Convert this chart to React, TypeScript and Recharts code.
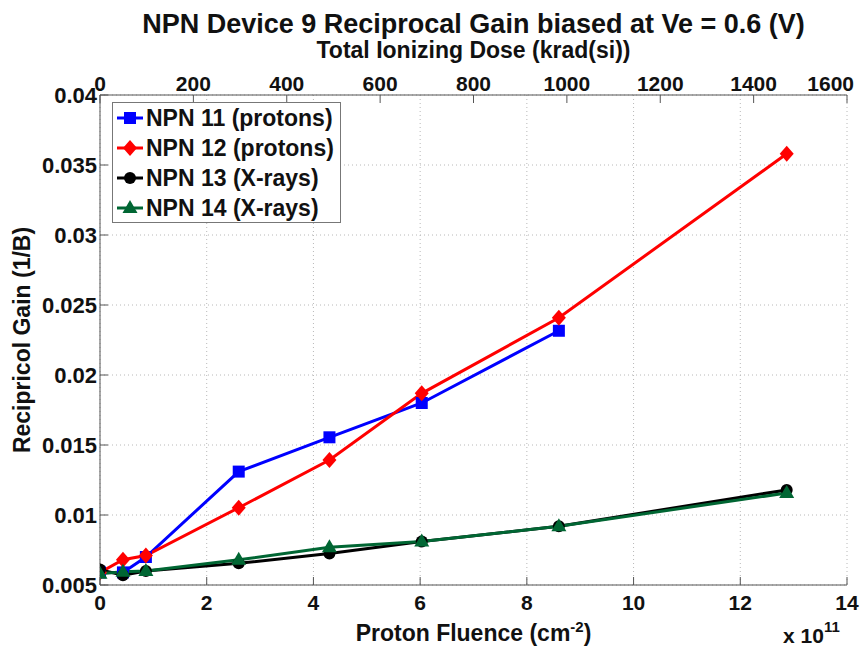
import React from "react";
import {
  LineChart,
  Line,
  XAxis,
  YAxis,
  CartesianGrid,
  Legend,
  Label,
} from "recharts";

const fluence = [0, 0.43, 0.86, 2.6, 4.3, 6.03, 8.6, 12.87];
const npn11 = [0.0059, 0.0059, 0.007, 0.0131, 0.01555, 0.018, 0.02316, null];
const npn12 = [0.0059, 0.0068, 0.0071, 0.01052, 0.01393, 0.01869, 0.02409, 0.0358];
const npn13 = [0.0061, 0.0057, 0.006, 0.00655, 0.00725, 0.0081, 0.0092, 0.01179];
const npn14 = [0.0058, 0.00595, 0.006, 0.0068, 0.0077, 0.0081, 0.0092, 0.01157];

const fluenceTicks = [0, 2, 4, 6, 8, 10, 12, 14];
const doseTicks = [0, 200, 400, 600, 800, 1000, 1200, 1400, 1600];
const gainTicks = [0.005, 0.01, 0.015, 0.02, 0.025, 0.03, 0.035, 0.04];

// top axis: 0..1600 krad(si) spans the same width as 0..14 x 10^11 cm^-2
const DOSE_MAX = 1600;
const FLUENCE_MAX = 14;
const doseTickPositions = doseTicks.map((d) => (d * FLUENCE_MAX) / DOSE_MAX);

const seriesInfo = [
  { key: "npn11", name: "NPN 11 (protons)", color: "#0000ff", shape: "square" },
  { key: "npn12", name: "NPN 12 (protons)", color: "#ff0000", shape: "diamond" },
  { key: "npn13", name: "NPN 13 (X-rays)", color: "#000000", shape: "circle" },
  { key: "npn14", name: "NPN 14 (X-rays)", color: "#006633", shape: "triangle" },
];

const data = fluence.map((f, i) => ({
  x: f,
  npn11: npn11[i],
  npn12: npn12[i],
  npn13: npn13[i],
  npn14: npn14[i],
}));

const FONT = "'Liberation Sans', Arial, sans-serif";
const AXIS = "#555555";

function Marker({ shape, cx, cy, color }: any) {
  if (shape === "square")
    return <rect x={cx - 6} y={cy - 6} width={12} height={12} fill={color} />;
  if (shape === "diamond")
    return (
      <polygon
        points={`${cx},${cy - 8} ${cx + 7},${cy} ${cx},${cy + 8} ${cx - 7},${cy}`}
        fill={color}
      />
    );
  if (shape === "circle") return <circle cx={cx} cy={cy} r={6} fill={color} />;
  return (
    <polygon
      points={`${cx},${cy - 8} ${cx + 7.5},${cy + 5} ${cx - 7.5},${cy + 5}`}
      fill={color}
    />
  );
}

const makeDot = (shape: string, color: string) => (props: any) => {
  const { cx, cy, index, value } = props;
  if (cx == null || cy == null || value == null) return <g key={`d${index}`} />;
  return (
    <g key={`d${index}`}>
      <Marker shape={shape} cx={cx} cy={cy} color={color} />
    </g>
  );
};

const BottomTick = (props: any) => {
  const { x, y, payload } = props;
  return (
    <g>
      <line x1={x} x2={x} y1={y} y2={y - 8} stroke={AXIS} strokeWidth={1} />
      <text
        x={x}
        y={y + 25}
        textAnchor="middle"
        fontFamily={FONT}
        fontWeight="bold"
        fontSize={21}
        fill="#111"
      >
        {payload.value}
      </text>
    </g>
  );
};

const TopTick = (props: any) => {
  const { x, y, payload } = props;
  const label = Math.round((payload.value * DOSE_MAX) / FLUENCE_MAX);
  const isLast = label === DOSE_MAX;
  return (
    <g>
      <line x1={x} x2={x} y1={y} y2={y + 8} stroke={AXIS} strokeWidth={1} />
      <text
        x={isLast ? x + 7 : x}
        y={y - 4}
        textAnchor={isLast ? "end" : "middle"}
        fontFamily={FONT}
        fontWeight="bold"
        fontSize={21}
        fill="#111"
      >
        {label}
      </text>
    </g>
  );
};

const LeftTick = (props: any) => {
  const { x, y, payload } = props;
  return (
    <g>
      <line x1={x} x2={x + 8} y1={y} y2={y} stroke={AXIS} strokeWidth={1} />
      <text
        x={x - 3}
        y={y + 8}
        textAnchor="end"
        fontFamily={FONT}
        fontWeight="bold"
        fontSize={22}
        fill="#111"
      >
        {String(payload.value)}
      </text>
    </g>
  );
};

const TopLabel = (props: any) => {
  const vb = props.viewBox;
  const cx = vb.x + vb.width / 2;
  return (
    <g fontFamily={FONT} fontWeight="bold" fill="#111">
      <text x={cx} y={vb.y + 23} textAnchor="middle" fontSize={27}>
        NPN Device 9 Reciprocal Gain biased at Ve = 0.6 (V)
      </text>
      <text x={cx} y={vb.y + 48} textAnchor="middle" fontSize={23}>
        Total Ionizing Dose (krad(si))
      </text>
    </g>
  );
};

const BottomLabel = (props: any) => {
  const vb = props.viewBox;
  const cx = vb.x + vb.width / 2;
  return (
    <g fontFamily={FONT} fontWeight="bold" fill="#111">
      <text x={cx} y={vb.y + 56} textAnchor="middle" fontSize={23}>
        Proton Fluence (cm
        <tspan dy={-9} fontSize={15}>
          -2
        </tspan>
        <tspan dy={9}>)</tspan>
      </text>
      <text x={vb.x + vb.width - 64} y={vb.y + 58} fontSize={21}>
        x 10
        <tspan dy={-11} fontSize={15}>
          11
        </tspan>
      </text>
    </g>
  );
};

const LeftLabel = (props: any) => {
  const vb = props.viewBox;
  const cx = vb.x + 17;
  const cy = vb.y + vb.height / 2;
  return (
    <text
      x={cx}
      y={cy}
      transform={`rotate(-90 ${cx} ${cy})`}
      textAnchor="middle"
      dominantBaseline="central"
      fontFamily={FONT}
      fontWeight="bold"
      fontSize={23}
      fill="#111"
    >
      Recipricol Gain (1/B)
    </text>
  );
};

const LegendBox = () => (
  <div
    style={{
      width: 229,
      height: 121,
      boxSizing: "border-box",
      border: "1px solid #777",
      background: "#fff",
      paddingTop: 0,
    }}
  >
    {seriesInfo.map((s) => (
      <div
        key={s.key}
        style={{ display: "flex", alignItems: "center", height: 30 }}
      >
        <svg width={33} height={30} style={{ display: "block" }}>
          <line x1={4} x2={30} y1={15} y2={15} stroke={s.color} strokeWidth={3} />
          <Marker shape={s.shape} cx={17} cy={15} color={s.color} />
        </svg>
        <span
          style={{
            fontFamily: FONT,
            fontWeight: "bold",
            fontSize: 23,
            color: "#111",
            lineHeight: "30px",
            whiteSpace: "nowrap",
          }}
        >
          {s.name}
        </span>
      </div>
    ))}
  </div>
);

export default function App() {
  return (
    <div style={{ position: "absolute", left: 0, top: 0, background: "#fff" }}>
      <LineChart
        width={862}
        height={647}
        data={data}
        margin={{ top: 10, right: 15, bottom: 0, left: 5 }}
      >
        <CartesianGrid
          stroke="#b8b8b8"
          strokeDasharray="1 3"
          verticalValues={fluenceTicks}
          horizontalValues={gainTicks}
        />
        <XAxis
          dataKey="x"
          type="number"
          domain={[0, FLUENCE_MAX]}
          ticks={fluenceTicks}
          allowDataOverflow
          height={62}
          tickSize={0}
          tickMargin={0}
          tickLine={false}
          axisLine={{ stroke: AXIS }}
          tick={<BottomTick />}
          interval={0}
        >
          <Label content={<BottomLabel />} />
        </XAxis>
        <XAxis
          xAxisId="top"
          dataKey="x"
          orientation="top"
          type="number"
          domain={[0, FLUENCE_MAX]}
          ticks={doseTickPositions}
          allowDataOverflow
          height={85}
          tickSize={0}
          tickMargin={0}
          tickLine={false}
          axisLine={{ stroke: AXIS }}
          tick={<TopTick />}
          interval={0}
        >
          <Label content={<TopLabel />} />
        </XAxis>
        <YAxis
          type="number"
          domain={[0.005, 0.04]}
          ticks={gainTicks}
          allowDataOverflow
          width={95}
          tickSize={0}
          tickMargin={0}
          tickLine={false}
          axisLine={{ stroke: AXIS }}
          tick={<LeftTick />}
          interval={0}
        >
          <Label content={<LeftLabel />} />
        </YAxis>
        <YAxis
          yAxisId="right"
          orientation="right"
          type="number"
          domain={[0.005, 0.04]}
          allowDataOverflow
          width={0}
          tick={false}
          tickLine={false}
          axisLine={{ stroke: AXIS }}
        />
        {seriesInfo.map((s) => (
          <Line
            key={s.key}
            dataKey={s.key}
            name={s.name}
            stroke={s.color}
            strokeWidth={3}
            isAnimationActive={false}
            connectNulls={false}
            dot={makeDot(s.shape, s.color)}
            activeDot={false}
          />
        ))}
        <Legend
          layout="vertical"
          align="center"
          verticalAlign="middle"
          wrapperStyle={{ left: 112, top: 102, width: 229, height: 121 }}
          content={<LegendBox />}
        />
      </LineChart>
    </div>
  );
}
